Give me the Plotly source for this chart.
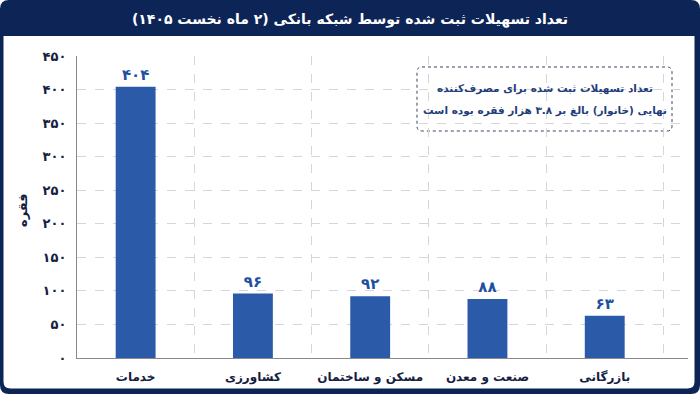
import plotly.graph_objects as go

# ---- data ----
categories = ["خدمات", "کشاورزی", "مسکن و ساختمان", "صنعت و معدن", "بازرگانی"]
values = [404, 96, 92, 88, 63]
y_ticks = [0, 50, 100, 150, 200, 250, 300, 350, 400, 450]
title_text = "تعداد تسهیلات ثبت شده توسط شبکه بانکی (۲ ماه نخست ۱۴۰۵)"
y_title = "فقره"
note_lines = ["تعداد تسهیلات ثبت شده برای مصرف‌کننده", "نهایی (خانوار) بالغ بر ۳.۸ هزار فقره بوده است"]

W, H = 700, 394
NAVY = "#0d2456"
BAR = "#2a5aa8"
LABEL = "#2250a0"
DARK = "#14213f"
FONT = "DejaVu Sans"

def fa(n):
    return str(n).translate(str.maketrans("0123456789", "۰۱۲۳۴۵۶۷۸۹"))

def px(x, y):
    return x / W, 1 - y / H

def rrect(x0, y0, x1, y1, r_top, r_bot):
    def P(x, y):
        a, b = px(x, y)
        return f"{a:.5f},{b:.5f}"
    s = f"M {P(x0 + r_top, y0)} L {P(x1 - r_top, y0)} Q {P(x1, y0)} {P(x1, y0 + r_top)} "
    s += f"L {P(x1, y1 - r_bot)} Q {P(x1, y1)} {P(x1 - r_bot, y1)} "
    s += f"L {P(x0 + r_bot, y1)} Q {P(x0, y1)} {P(x0, y1 - r_bot)} "
    s += f"L {P(x0, y0 + r_top)} Q {P(x0, y0)} {P(x0 + r_top, y0)} Z"
    return s

fig = go.Figure()
fig.add_trace(go.Bar(
    x=categories, y=values, marker=dict(color=BAR, line=dict(width=0)),
    width=0.34,
    text=[fa(v) for v in values], textposition="outside",
    textfont=dict(family=FONT, size=15, color=LABEL, weight="bold"),
    cliponaxis=False, hoverinfo="skip",
))

shapes = [
    dict(type="path", xref="paper", yref="paper", path=rrect(0, 0, 700, 394, 9, 9),
         fillcolor=NAVY, line=dict(width=0), layer="below"),
    dict(type="path", xref="paper", yref="paper", path=rrect(3.5, 36, 694.5, 388.5, 0, 7),
         fillcolor="white", line=dict(width=0), layer="below"),
    dict(type="path", xref="paper", yref="paper", path=rrect(417, 67, 672, 131, 5, 5),
         fillcolor="white", line=dict(width=1, color="#3a4660", dash="dot"), layer="below"),
]

x0d, y0d = px(77, 358)
x1d, y1d = px(688, 56)

annotations = [
    dict(text=title_text, xref="paper", yref="paper", x=0.5, y=1 - 19 / H,
         showarrow=False, width=640, height=26, align="center",
         font=dict(family=FONT, size=14, color="white", weight="bold"),
         xanchor="center", yanchor="middle"),
    dict(text=y_title, xref="paper", yref="paper", x=22 / W, y=1 - 210 / H,
         showarrow=False, textangle=-90, font=dict(family=FONT, size=13, color=DARK, weight="bold"),
         xanchor="center", yanchor="middle"),
]
for i, line in enumerate(note_lines):
    annotations.append(dict(
        text=line, xref="paper", yref="paper",
        x=544.5 / W, y=1 - (88 + 22 * i) / H, showarrow=False,
        width=300, height=20, align="center",
        font=dict(family=FONT, size=10.5, color="#1f3d7a", weight="bold"),
        xanchor="center", yanchor="middle"))

fig.update_layout(
    width=W, height=H,
    margin=dict(l=0, r=0, t=0, b=0),
    paper_bgcolor="white", plot_bgcolor="rgba(0,0,0,0)",
    showlegend=False, bargap=0.66,
    shapes=shapes, annotations=annotations,
    font=dict(family=FONT),
    xaxis=dict(
        domain=[x0d, x1d], type="category", range=[-0.5, 4.71], automargin=False,
        tickson="boundaries", showgrid=True, gridcolor="#d6d6d6", griddash="dash", gridwidth=1,
        showline=True, linecolor="#8a8a8a", linewidth=1, ticks="", ticklen=0,
        tickfont=dict(family=FONT, size=12, color=DARK, weight="bold"), ticklabelstandoff=8,
    ),
    yaxis=dict(
        domain=[y0d, y1d], range=[0, 450], automargin=False,
        tickvals=y_ticks, ticktext=[fa(v) for v in y_ticks],
        showgrid=True, gridcolor="#d6d6d6", griddash="dash", gridwidth=1,
        zeroline=False, showline=True, linecolor="#8a8a8a", linewidth=1,
        ticks="", tickfont=dict(family=FONT, size=13, color=DARK, weight="bold"), ticklabelstandoff=7,
    ),
)

fig.write_html("out.html")
